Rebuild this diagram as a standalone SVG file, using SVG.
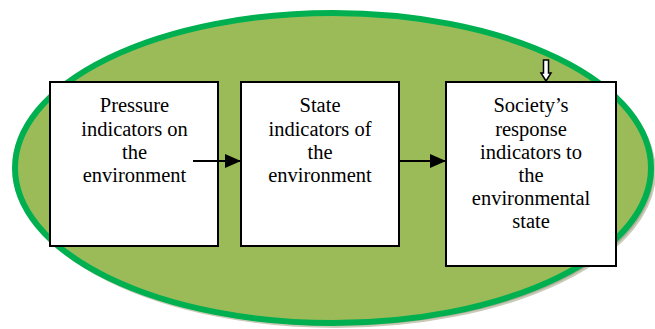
<svg xmlns="http://www.w3.org/2000/svg" width="655" height="329" viewBox="0 0 655 329">
<defs>
<marker id="ah" markerWidth="16" markerHeight="14" refX="16" refY="7" orient="auto" markerUnits="userSpaceOnUse">
<path d="M0,0 L16,7 L0,14 Z" fill="#000"/>
</marker>
</defs>
<rect width="655" height="329" fill="#fff"/>
<g id="background">
<ellipse cx="336" cy="172" rx="319" ry="155" fill="#a9ad94" stroke="#c9cbb8" stroke-width="2"/>
<ellipse cx="333" cy="168" rx="318" ry="155" fill="#9bbb59" stroke="#00b050" stroke-width="6"/>
</g>
<g id="pressure">
<rect x="50" y="82" width="168" height="164" fill="#fff" stroke="#000" stroke-width="2"/>
<text font-family="Liberation Serif" font-size="20.5" text-anchor="middle" x="134.5" y="112.3">Pressure</text>
<text font-family="Liberation Serif" font-size="20.5" text-anchor="middle" x="134.5" y="135.5">indicators on</text>
<text font-family="Liberation Serif" font-size="20.5" text-anchor="middle" x="134.5" y="158.7">the</text>
<text font-family="Liberation Serif" font-size="20.5" text-anchor="middle" x="134.5" y="181.9">environment</text>
</g>
<g id="state">
<rect x="241" y="82" width="158" height="164" fill="#fff" stroke="#000" stroke-width="2"/>
<text font-family="Liberation Serif" font-size="20.5" text-anchor="middle" x="320" y="112.3">State</text>
<text font-family="Liberation Serif" font-size="20.5" text-anchor="middle" x="320" y="135.5">indicators of</text>
<text font-family="Liberation Serif" font-size="20.5" text-anchor="middle" x="320" y="158.7">the</text>
<text font-family="Liberation Serif" font-size="20.5" text-anchor="middle" x="320" y="181.9">environment</text>
</g>
<g id="response">
<rect x="446" y="82" width="170" height="184" fill="#fff" stroke="#000" stroke-width="2"/>
<text font-family="Liberation Serif" font-size="20.5" text-anchor="middle" x="531" y="112.3">Society’s</text>
<text font-family="Liberation Serif" font-size="20.5" text-anchor="middle" x="531" y="135.5">response</text>
<text font-family="Liberation Serif" font-size="20.5" text-anchor="middle" x="531" y="158.7">indicators to</text>
<text font-family="Liberation Serif" font-size="20.5" text-anchor="middle" x="531" y="181.9">the</text>
<text font-family="Liberation Serif" font-size="20.5" text-anchor="middle" x="531" y="205.1">environmental</text>
<text font-family="Liberation Serif" font-size="20.5" text-anchor="middle" x="531" y="228.3">state</text>
</g>
<g id="connectors">
<line x1="193" y1="161" x2="241" y2="161" stroke="#000" stroke-width="2" marker-end="url(#ah)"/>
<line x1="399" y1="161" x2="446" y2="161" stroke="#000" stroke-width="2" marker-end="url(#ah)"/>
<path d="M543.5,60 L548.5,60 L548.5,73 L551,73 L546,81 L541,73 L543.5,73 Z" fill="#fff" stroke="#000" stroke-width="1.5"/>
</g>
</svg>
